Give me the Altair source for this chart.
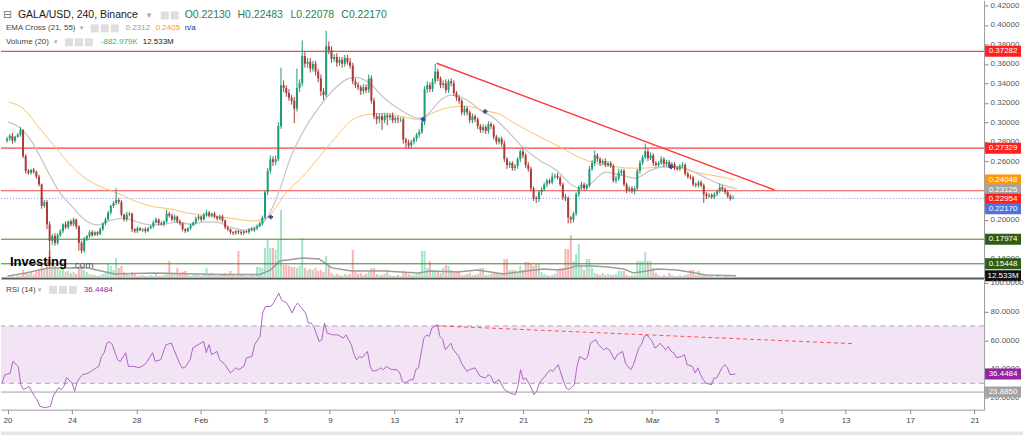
import altair as alt
import pandas as pd

FONT = "Liberation Sans"
START = pd.Timestamp("2022-01-19 16:00", tz="UTC")   # first 4h candle
DAY0 = pd.Timestamp("2022-01-20 00:00", tz="UTC")

def ms(ts):
    return int(ts.value // 1_000_000)

def day_ms(d):
    return ms(DAY0 + pd.Timedelta(hours=24 * d))

def bar_ms(i):
    return ms(START + pd.Timedelta(hours=4 * i))

# ---------------- data (prices in 1/1000 USD) ----------------
OPEN_FIRST = 281
CLOSE = [283,286,281,285,287,292,265,250,248,251,
 249,244,236,214,218,195,178,183,176,184,
 188,195,192,198,195,200,193,176,168,180,
 183,187,184,187,185,190,196,200,207,214,
 217,220,218,205,200,205,206,190,188,191,
 189,190,188,191,193,197,200,196,195,198,
 206,204,200,203,198,196,190,188,191,194,
 197,201,203,200,205,207,204,206,203,201,
 203,199,192,190,187,186,188,187,186,188,
 187,190,189,191,193,196,202,228,250,262,
 259,262,296,338,335,330,325,322,314,335,
 340,368,360,362,355,360,352,345,332,328,
 378,374,365,367,361,364,360,366,362,358,
 342,338,336,332,336,333,345,322,306,303,
 306,302,307,305,307,302,304,303,303,282,
 279,276,280,283,287,290,300,334,338,334,
 342,352,345,338,340,333,342,340,330,325,
 322,310,314,310,302,306,303,296,292,295,
 291,298,296,285,280,283,278,262,256,258,
 253,255,262,270,266,256,252,232,222,221,
 228,231,236,240,238,244,245,243,236,223,
 222,202,200,206,226,233,236,232,235,252,
 258,266,262,258,260,256,258,255,240,242,
 248,250,236,230,232,229,232,250,258,264,
 270,263,266,258,256,258,262,257,259,255,
 257,253,252,255,256,247,244,243,236,235,
 238,235,226,224,225,223,226,229,233,231,
 228,224,221.3,221.7]

WICK_UP = [2,2,3,1,2,3,1,2,2,1,
 2,1,2,1,2,2,3,2,3,2,
 2,1,3,1,2,2,1,1,2,2,
 1,2,2,1,1,2,1,2,2,1,
 2,12,2,2,1,3,2,1,1,2,
 1,1,2,1,1,2,2,1,2,1,
 4,2,2,2,1,2,1,1,1,2,
 1,2,2,1,2,3,2,1,2,1,
 2,2,1,1,1,1,1,1,2,1,
 1,1,2,1,2,2,2,2,3,4,
 3,4,4,18,5,3,4,3,4,20,
 4,16,5,4,4,3,3,3,4,3,
 16,5,4,3,4,3,3,3,3,4,
 3,3,3,2,3,3,4,3,3,3,
 3,3,2,2,2,3,2,2,2,2,
 2,3,2,2,2,3,2,3,4,3,
 3,8,3,2,3,4,2,3,3,2,
 3,2,3,2,2,3,2,2,2,3,
 2,3,2,2,2,2,2,3,2,2,
 2,2,2,2,4,2,3,2,2,2,
 2,2,2,2,2,4,2,3,2,2,
 3,2,2,2,2,2,3,2,2,3,
 3,5,2,2,2,3,2,2,2,3,
 4,2,2,2,2,2,2,2,3,2,
 8,3,3,2,2,2,3,2,2,2,
 2,2,2,2,3,2,2,2,2,2,
 2,2,2,2,2,2,2,2,4,2,
 2,2,2,3.13]

WICK_DN = [2,2,3,2,1,2,2,3,2,2,
 2,2,2,3,2,5,23,4,3,2,
 2,2,2,2,2,2,3,8,3,2,
 2,2,2,1,2,1,2,2,1,2,
 2,2,2,2,2,2,2,3,2,2,
 1,2,2,1,1,2,1,2,1,2,
 2,2,2,2,2,2,2,2,1,2,
 1,2,2,2,1,2,2,2,2,2,
 2,2,2,2,2,2,2,2,2,2,
 1,2,1,2,2,1,2,2,3,3,
 4,3,2,3,4,4,3,4,15,3,
 4,3,4,4,4,3,4,4,5,5,
 2,4,4,3,4,3,4,3,3,3,
 3,3,3,4,3,3,3,3,3,5,
 4,10,3,8,3,3,3,4,3,4,
 6,3,3,3,3,3,2,3,4,3,
 3,3,3,3,3,3,3,3,3,3,
 3,3,3,3,3,3,3,3,3,3,
 3,3,3,3,3,3,3,3,4,3,
 3,3,3,3,3,3,3,3,3,4,
 3,3,2,3,2,2,2,2,2,3,
 3,6,4,3,2,3,3,2,2,2,
 2,3,3,3,2,2,2,2,2,3,
 2,3,2,3,2,2,3,2,3,2,
 2,3,2,3,2,2,2,3,2,2,
 2,2,2,2,2,2,2,2,2,2,
 2,2,9,3,2,2,2,2,2,2,
 2,2,2,0.52]

VOLUME_M = [12,6,12,6,18,12,48,30,24,36,
 24,36,54,84,60,108,162,90,72,60,
 48,54,36,42,30,36,24,60,72,48,
 36,24,18,18,12,18,24,30,84,72,
 48,120,60,72,36,24,18,36,24,12,
 12,18,12,12,18,12,24,12,12,18,
 30,102,30,24,60,24,36,42,18,12,
 18,24,18,12,24,60,24,30,18,12,
 18,24,30,24,42,18,12,162,24,18,
 12,12,18,18,66,66,60,180,228,180,
 180,168,228,408,78,78,72,66,66,60,
 72,240,60,48,54,48,60,42,48,36,
 132,72,30,18,24,18,12,24,18,24,
 168,36,24,30,18,24,36,60,60,24,
 18,18,24,48,18,12,12,18,12,42,
 30,24,18,18,24,30,162,162,60,102,
 48,42,42,30,60,78,72,48,30,42,
 42,18,18,24,30,18,18,24,60,60,
 18,18,24,36,30,24,30,114,114,48,
 48,48,36,72,48,96,96,84,72,84,
 84,36,24,18,12,18,24,42,60,60,
 174,174,258,102,144,204,66,48,114,114,
 60,30,24,18,30,18,24,18,18,24,
 42,42,42,18,12,18,18,102,102,102,
 156,102,102,60,30,18,12,18,12,30,
 18,12,12,18,12,18,24,48,48,18,
 42,18,18,18,12,12,6,12,12,6,
 12,12,6,6]

# (days after Jan 20, value)
VOL_MA = [(-0.28,12),(0.84,30),(2.26,60),(4.74,60),(6.41,24),(8.89,30),(13.03,20),
 (15.51,20),(16.19,48),(16.75,102),(18.17,120),(19.22,114),(20.03,60),(21.27,42),
 (23.31,42),(25.42,30),(26.22,42),(27.9,36),(29.13,48),(30.8,24),(31.24,30),
 (32.23,42),(33.28,54),(34.33,48),(34.95,60),(35.33,72),(36.38,72),(37.31,66),
 (38.3,54),(38.92,30),(39.78,42),(40.4,54),(41.64,48),(42.44,36),(43.49,18),(45.36,12.5)]

EMA55 = [(-0.22,0.3205),(0.65,0.3144),(1.64,0.295),(2.69,0.2744),(3.75,0.254),(4.74,0.2405),
 (5.79,0.232),(6.59,0.227),(7.83,0.218),(8.89,0.213),(9.94,0.2108),(10.93,0.2067),
 (11.98,0.2046),(13.03,0.2026),(14.02,0.2005),(15.08,0.1985),(15.70,0.2000),(16.13,0.2045),
 (17.12,0.227),(18.17,0.2436),(19.22,0.264),(20.22,0.2836),(21.27,0.302),(22.32,0.308),
 (23.31,0.309),(24.36,0.306),(25.42,0.303),(26.41,0.310),(27.46,0.3154),(28.51,0.3164),
 (29.5,0.312),(30.56,0.308),(31.36,0.300),(33.47,0.2815),(34.46,0.2733),(35.51,0.264),
 (36.56,0.258),(37.55,0.255),(38.61,0.2528),(39.66,0.2528),(40.65,0.2538),(41.7,0.2528),
 (42.76,0.2487),(43.75,0.2456),(44.8,0.2426),(45.29,0.2405)]

EMA21 = [(-0.28,0.300),(0.40,0.295),(1.27,0.2785),(2.07,0.254),(2.88,0.230),(3.75,0.213),
 (4.55,0.1995),(5.36,0.1944),(6.22,0.1995),(7.03,0.2015),(7.83,0.1974),(8.7,0.1944),
 (9.5,0.195),(10.31,0.1974),(11.18,0.195),(11.98,0.1974),(12.79,0.1974),(13.65,0.1923),
 (14.46,0.1892),(15.08,0.1913),(15.7,0.1964),(16.13,0.2067),(16.75,0.2303),(17.37,0.261),
 (18.17,0.2887),(19.22,0.3154),(20.22,0.3349),(21.08,0.345),(21.46,0.346),(22.32,0.341),
 (23.31,0.3246),(24.36,0.3123),(25.42,0.3041),(25.79,0.305),(26.84,0.3226),(27.46,0.3277),
 (28.51,0.3226),(29.5,0.3103),(29.94,0.307),(30.99,0.2918),(31.98,0.2744),(33.04,0.261),
 (34.08,0.2508),(35.08,0.2354),(35.51,0.2323),(36.13,0.2354),(37.18,0.2487),(38.17,0.2456),
 (39.04,0.2426),(40.03,0.2508),(41.08,0.2549),(42.13,0.2528),(43.12,0.2456),(44.17,0.2374),
 (44.98,0.2333),(45.42,0.2313)]

EMA_CROSSES = [(16.19,0.2026),(25.73,0.303),(29.63,0.311),(41.27,0.254)]

TREND_PRICE = [(26.59,0.3605),(47.77,0.2303)]
TREND_RSI = [(26.59,70.1),(52.54,57.6)]

H_RED = [0.37282, 0.27329, 0.22954]
H_GREEN = [0.17974, 0.15448]
LAST_PRICE = 0.22170

TAG_VALUES = [0.37282, 0.27329, 0.24048, 0.23125, 0.22954, 0.22170, 0.17974, 0.15448]
TAG_COLORS = ["#ff1f1f", "#ff1f1f", "#ff9800", "#a3a3a3", "#ff1f1f", "#4f72e3", "#2e5e16", "#2e5e16"]

# RSI (candle index, value)
RSI_POINTS = [(0,30.4),(1,36),(3,37),(4,45.3),(6,41.8),(7,29),(8,25.6),(10,27.9),(11,24.4),(12,21),
 (13,18.6),(14,14),(16,13),(18,14),(19,21),(21,27),(22,25.6),(23,28),(24,34),(26,30.4),(27,24.4),
 (28,31.3),(29,34),(30,36),(32,37),(33,38.3),(34,39.5),(36,41.8),(37,48.7),(38,51.3),(39,58),(40,59),
 (41,56.9),(43,46.4),(44,45.3),(46,51.3),(47,41.8),(49,41.8),(51,40.8),(53,43),(54,45.3),(56,51.3),
 (57,45.3),(59,46.4),(61,56.9),(63,58),(64,53.4),(66,44.3),(67,40.8),(68,40.8),(70,46.4),(71,54.8),
 (73,56.9),(75,59.2),(76,51.3),(77,56.9),(78,50),(80,52.2),(81,46.4),(83,43),(85,37.2),(87,40.8),
 (88,39.5),(90,41.8),(91,47.8),(93,48.7),(94,56.9),(96,62.6),(97,79),(98,83.5),(100,83.5),(101,85.9),
 (103,92.8),(104,88.2),(106,85.9),(108,79),(109,83.5),(110,85.9),(112,81.2),(113,79),(114,72),(115,72),
 (116,69.6),(118,59.2),(119,60.3),(120,72),(121,65),(123,63.8),(125,63.8),(127,61.5),(128,63.8),
 (130,56.9),(131,50),(132,46.4),(133,48.7),(134,47.8),(136,52.2),(137,41.8),(138,38.3),(140,39.5),
 (141,40.8),(142,39.5),(143,41.8),(145,39.5),(147,39.5),(148,37.2),(149,31.3),(150,30.2),(152,32.5),
 (153,32.5),(154,39.5),(155,40.8),(157,61.5),(158,63.8),(159,62.6),(160,68.5),(162,70.8),(163,62.6),
 (164,60.5),(165,53.4),(167,58),(168,53.4),(170,48.7),(171,44.1),(173,38.3),(174,39.5),(176,40.8),
 (178,34.8),(180,33.7),(181,36),(182,34.8),(183,30.2),(184,31.3),(185,32.5),(187,25.6),(189,23.3),
 (191,22),(192,27.9),(193,39.5),(194,32.5),(195,33.7),(197,26.7),(198,22),(199,24.4),(200,30.2),
 (202,34.8),(204,39.5),(205,38.3),(207,43),(208,37.2),(209,31.3),(210,26.7),(211,25.6),(213,29),
 (214,41.8),(215,48.7),(217,46.4),(218,48.7),(219,58),(220,59.2),(221,60.3),(222,56.9),(224,53.4),
 (225,54.6),(226,53.4),(228,46.4),(229,50),(231,52.2),(232,44.1),(233,41.8),(234,39.5),(235,43),
 (237,54.6),(238,56.9),(239,62.6),(240,63.8),(242,59.2),(243,54.6),(244,55.7),(245,58),(247,53.4),
 (248,55.7),(249,52.2),(250,51.3),(251,47.8),(253,48.7),(254,50),(255,43),(257,41.8),(258,37.2),
 (259,40.8),(260,36),(261,32.5),(262,30.2),(264,29),(265,33.7),(266,33.7),(268,40.8),(269,43),
 (270,40.8),(271,36),(273,36.4484)]
RSI_LAST = 36.4484
RSI_LINE_GRAY = 23.8850

PRICE_TICKS = [0.16,0.18,0.20,0.22,0.24,0.26,0.28,0.30,0.32,0.34,0.36,0.38,0.40,0.42]
RSI_TICKS = [20, 40, 60, 80, 100]
DATE_TICKS = ["2022-01-20","2022-01-24","2022-01-28","2022-02-01","2022-02-05","2022-02-09",
 "2022-02-13","2022-02-17","2022-02-21","2022-02-25","2022-03-01","2022-03-05","2022-03-09",
 "2022-03-13","2022-03-17","2022-03-21"]

assert len(CLOSE) == len(WICK_UP) == len(WICK_DN) == len(VOLUME_M)

# ---------------- tables ----------------
UPC, DNC = "#1f9b74", "#ad3c36"
VUP, VDN = "#a3e3c6", "#f8b3b1"
opens = [OPEN_FIRST] + CLOSE[:-1]
rows = []
for i, c in enumerate(CLOSE):
    o = opens[i]
    up = c >= o
    rows.append(dict(t=bar_ms(i), open=o / 1000, close=c / 1000,
                     high=(max(o, c) + WICK_UP[i]) / 1000, low=(min(o, c) - WICK_DN[i]) / 1000,
                     vol=VOLUME_M[i], ccol=UPC if up else DNC, vcol=VUP if up else VDN))
candles = pd.DataFrame(rows)

def day_table(pairs, name="v"):
    return pd.DataFrame({"t": [day_ms(d) for d, _ in pairs], name: [v for _, v in pairs]})

ema55 = day_table(EMA55)
ema21 = day_table(EMA21)
volma = day_table(VOL_MA)
cross = day_table(EMA_CROSSES)
trend_p = day_table(TREND_PRICE)
trend_r = day_table(TREND_RSI)
rsi = pd.DataFrame({"t": [bar_ms(i) for i, _ in RSI_POINTS], "v": [v for _, v in RSI_POINTS]})

# price tags, pushed apart so they do not overlap
GAP = 0.0098
order = sorted(range(len(TAG_VALUES)), key=lambda k: -TAG_VALUES[k])
disp, prev = {}, None
for k in order:
    v = TAG_VALUES[k]
    p = v if prev is None else min(v, prev - GAP)
    disp[k] = p
    prev = p
tags = pd.DataFrame({"disp": [disp[k] for k in range(len(TAG_VALUES))],
                     "col": TAG_COLORS, "txt": [f"{v:.5f}" for v in TAG_VALUES]})

# ---------------- scales / axes ----------------
XSCALE = alt.Scale(type="utc", domain=[day_ms(-0.4025), day_ms(60.59)])
XAX_MAIN = alt.Axis(labels=False, ticks=False, domain=True, domainColor="#5a5a5a",
                    domainWidth=2, title=None, grid=False)
XAX_RSI = alt.Axis(values=[ms(pd.Timestamp(d, tz="UTC")) for d in DATE_TICKS],
                   labelExpr="utcdate(datum.value) == 1 ? utcFormat(datum.value, '%b') : '' + utcdate(datum.value)",
                   title=None, grid=False, tickSize=4, tickColor="#888", domainColor="#9a9a9a",
                   labelColor="#444", labelFont=FONT, labelFontSize=8, labelPadding=3,
                   labelFlush=False, labelOverlap=False)
PSCALE = alt.Scale(domain=[0.14, 0.42513], nice=False, zero=False)
PAXIS = alt.Axis(orient="right", values=PRICE_TICKS, format=".5f", title=None, grid=False,
                 tickSize=4, tickColor="#888", domainColor="#9a9a9a", labelColor="#555",
                 labelFont=FONT, labelFontSize=8, labelPadding=2, labelOverlap=False)
VSCALE = alt.Scale(domain=[0, 1668], nice=False, zero=True)
RSCALE = alt.Scale(domain=[11.65, 102.1], nice=False, zero=False)
RAXIS = alt.Axis(orient="right", values=RSI_TICKS, format=".4f", title=None, grid=False,
                 tickSize=4, tickColor="#888", domainColor="#9a9a9a", labelColor="#555",
                 labelFont=FONT, labelFontSize=8, labelPadding=2, labelOverlap=False)

XM = alt.X("t:T", scale=XSCALE, axis=XAX_MAIN)
XR = alt.X("t:T", scale=XSCALE, axis=XAX_RSI)

BOX = "M-1,-0.3056L1,-0.3056L1,0.3056L-1,0.3056Z"
ONE = pd.DataFrame({"k": [0]})

def txt(s, x, y, size=8, color="#444", weight="normal", font=FONT):
    return alt.Chart(ONE).mark_text(text=s, fontSize=size, color=color, fontWeight=weight,
                                    font=font, align="left", baseline="middle").encode(
        x=alt.value(x), y=alt.value(y))

def icon(x, y):
    return alt.Chart(ONE).mark_square(size=64, color="#dedede", opacity=1).encode(
        x=alt.value(x), y=alt.value(y))

# ---------------- main panel ----------------
vol_bars = alt.Chart(candles).mark_bar(size=2).encode(
    x=XM, y=alt.Y("vol:Q", scale=VSCALE, axis=None), color=alt.Color("vcol:N", scale=None))
vol_ma = alt.Chart(volma).mark_line(color="#9c9c9c", strokeWidth=1.5).encode(
    x=XM, y=alt.Y("v:Q", scale=VSCALE, axis=None))
vol_tag_df = pd.DataFrame({"v": [12.533], "txt": ["12.533M"]})
vol_tag = alt.Chart(vol_tag_df).mark_point(shape=BOX, size=1296, filled=True, opacity=1,
                                           color="#111111", strokeWidth=0).encode(
    x=alt.value(1004), y=alt.Y("v:Q", scale=VSCALE, axis=None))
vol_tag_t = alt.Chart(vol_tag_df).mark_text(color="white", fontSize=8, font=FONT).encode(
    x=alt.value(1004), y=alt.Y("v:Q", scale=VSCALE, axis=None), text="txt:N")
vol_layer = alt.layer(vol_bars, vol_ma, vol_tag, vol_tag_t)

YP = lambda f: alt.Y(f, scale=PSCALE, axis=PAXIS)
hred = alt.Chart(pd.DataFrame({"p": H_RED})).mark_rule(color="#f24848", strokeWidth=1.2).encode(y=YP("p:Q"))
hgreen = alt.Chart(pd.DataFrame({"p": H_GREEN})).mark_rule(color="#4b7a2a", strokeWidth=1).encode(y=YP("p:Q"))
hlast = alt.Chart(pd.DataFrame({"p": [LAST_PRICE]})).mark_rule(
    color="#7d96ee", strokeWidth=1, strokeDash=[1, 2]).encode(y=YP("p:Q"))
l55 = alt.Chart(ema55).mark_line(color="#ffbe6b", strokeWidth=1, interpolate="monotone").encode(x=XM, y=YP("v:Q"))
l21 = alt.Chart(ema21).mark_line(color="#c4c4c4", strokeWidth=1.2, interpolate="monotone").encode(x=XM, y=YP("v:Q"))
trend = alt.Chart(trend_p).mark_line(color="#ff3c3c", strokeWidth=1.5).encode(x=XM, y=YP("v:Q"))
wicks = alt.Chart(candles).mark_rule(strokeWidth=1).encode(
    x=XM, y=YP("low:Q"), y2="high:Q", color=alt.Color("ccol:N", scale=None))
bodies = alt.Chart(candles).mark_bar(size=2).encode(
    x=XM, y=YP("open:Q"), y2="close:Q", color=alt.Color("ccol:N", scale=None))
crosses = alt.Chart(cross).mark_point(shape="cross", filled=True, size=22, color="#4b3db5",
                                      opacity=1).encode(x=XM, y=YP("v:Q"))
tag_box = alt.Chart(tags).mark_point(shape=BOX, size=1296, filled=True, opacity=1, strokeWidth=0).encode(
    x=alt.value(1004), y=YP("disp:Q"), color=alt.Color("col:N", scale=None))
tag_txt = alt.Chart(tags).mark_text(color="white", fontSize=8, font=FONT).encode(
    x=alt.value(1004), y=YP("disp:Q"), text="txt:N")
price_layer = alt.layer(hred, hgreen, hlast, l55, l21, trend, wicks, bodies, crosses, tag_box, tag_txt)

texts_main = [
    txt("⊟", 2, 15, size=11, color="#777", font="DejaVu Sans"),
    txt("GALA/USD, 240, Binance", 17, 15, size=10.5, color="#1a1a1a"),
    txt("▾", 146, 15, size=9, color="#aaa", font="DejaVu Sans"),
    icon(164, 15), icon(174, 15),
    txt("O0.22130", 184, 15, size=10.5, color="#2e7d4f"),
    txt("H0.22483", 237, 15, size=10.5, color="#2e7d4f"),
    txt("L0.22078", 290, 15, size=10.5, color="#2e7d4f"),
    txt("C0.22170", 341, 15, size=10.5, color="#2e7d4f"),
    txt("EMA Cross (21, 55)", 5, 28, color="#444"),
    txt("▾", 79, 28, size=7, color="#aaa", font="DejaVu Sans"),
    icon(94, 28), icon(104, 28), icon(114, 28),
    txt("0.2312", 125, 28, color="#999"),
    txt("0.2405", 155, 28, color="#ff9800"),
    txt("n/a", 184, 28, color="#2b2b8f"),
    txt("Volume (20)", 5, 42, color="#444"),
    txt("▾", 53, 42, size=7, color="#aaa", font="DejaVu Sans"),
    icon(68, 42), icon(78, 42), icon(88, 42),
    txt("-882.979K", 100, 42, color="#27b877"),
    txt("12.533M", 142, 42, color="#222"),
    txt("Investing", 9, 262, size=13, color="#000", weight="bold"),
    txt(".com", 71, 265, size=10, color="#555"),
]

main = alt.layer(vol_layer, price_layer, *texts_main).resolve_scale(y="independent").properties(
    width=985, height=278)

# ---------------- RSI panel ----------------
YR = lambda f: alt.Y(f, scale=RSCALE, axis=RAXIS)
band = alt.Chart(pd.DataFrame({"a": [70], "b": [30]})).mark_rect(color="#f2e4f4").encode(
    y=YR("a:Q"), y2="b:Q")
band_lines = alt.Chart(pd.DataFrame({"v": [70, 30]})).mark_rule(
    color="#a9a9a9", strokeDash=[5, 4], strokeWidth=1).encode(y=YR("v:Q"))
gray_line = alt.Chart(pd.DataFrame({"v": [RSI_LINE_GRAY]})).mark_rule(
    color="#a0a0a0", strokeWidth=1).encode(y=YR("v:Q"))
rsi_line = alt.Chart(rsi).mark_line(color="#b063c4", strokeWidth=1).encode(x=XR, y=YR("v:Q"))
rsi_trend = alt.Chart(trend_r).mark_line(color="#ff5050", strokeWidth=1, strokeDash=[4, 3]).encode(
    x=XR, y=YR("v:Q"))
rtags = pd.DataFrame({"v": [RSI_LAST, RSI_LINE_GRAY], "col": ["#93239f", "#a3a3a3"],
                      "txt": [f"{RSI_LAST:.4f}", f"{RSI_LINE_GRAY:.4f}"]})
rtag_box = alt.Chart(rtags).mark_point(shape=BOX, size=1296, filled=True, opacity=1, strokeWidth=0).encode(
    x=alt.value(1004), y=YR("v:Q"), color=alt.Color("col:N", scale=None))
rtag_txt = alt.Chart(rtags).mark_text(color="white", fontSize=8, font=FONT).encode(
    x=alt.value(1004), y=YR("v:Q"), text="txt:N")
strip = alt.Chart(ONE).mark_rect(color="#e6e6e6").encode(
    x=alt.value(0), x2=alt.value(1024), y=alt.value(152), y2=alt.value(156))
texts_rsi = [
    txt("RSI (14)", 5, 10, color="#444"),
    txt("▾", 37, 10, size=7, color="#aaa", font="DejaVu Sans"),
    icon(52, 10), icon(62, 10), icon(72, 10),
    txt("36.4484", 83, 10, color="#93239f"),
]
rsi_chart = alt.layer(band, band_lines, gray_line, rsi_line, rsi_trend, rtag_box, rtag_txt,
                      strip, *texts_rsi).properties(width=985, height=130)

chart = alt.vconcat(main, rsi_chart, spacing=2, bounds="flush").properties(
    padding=0, background="white").configure_view(stroke=None)

chart.save("out.html", embed_options={"renderer": "svg", "actions": False})
